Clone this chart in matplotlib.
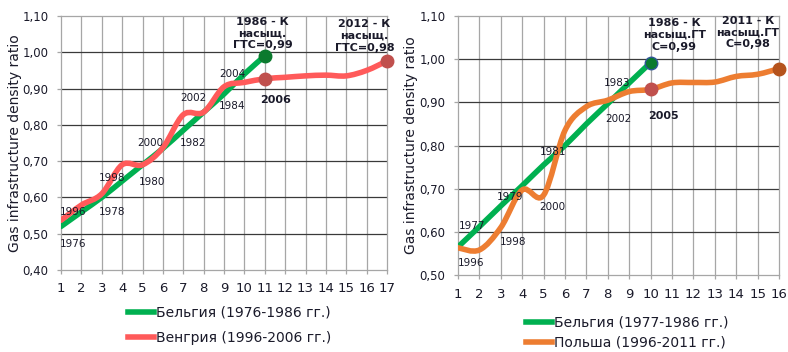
import numpy as np
import matplotlib
matplotlib.use("Agg")
import matplotlib.pyplot as plt
from matplotlib.path import Path
from matplotlib.patches import PathPatch
from matplotlib.lines import Line2D

plt.rcParams['font.family'] = ['DejaVu Sans']

# ---------------- data ----------------
# Left chart: Belgium 1976-1986, Hungary 1996-2012
left_x_belgium = [1, 2, 3, 4, 5, 6, 7, 8, 9, 10, 11]
left_belgium = [0.52, 0.56, 0.60, 0.645, 0.69, 0.735, 0.785, 0.835, 0.885, 0.94, 0.99]
left_x_hungary = [1, 2, 3, 4, 5, 6, 7, 8, 9, 10, 11, 12, 13, 14, 15, 16, 17]
left_hungary = [0.537, 0.579, 0.61, 0.69, 0.69, 0.737, 0.828, 0.835, 0.905, 0.917,
                0.927, 0.931, 0.935, 0.937, 0.935, 0.95, 0.976]
left_xticks = list(range(1, 18))
left_yticks = [0.40, 0.50, 0.60, 0.70, 0.80, 0.90, 1.00, 1.10]
left_year_labels = [("1976", 1.6, 0.472), ("1978", 3.5, 0.56), ("1996", 1.6, 0.56),
                    ("1980", 5.47, 0.643), ("1998", 3.5, 0.654), ("1982", 7.48, 0.75),
                    ("2000", 5.37, 0.75), ("1984", 9.39, 0.852), ("2002", 7.48, 0.874),
                    ("2004", 9.39, 0.94)]
left_legend = ["Бельгия (1976-1986 гг.)", "Венгрия (1996-2006 гг.)"]

# Right chart: Belgium 1977-1986, Poland 1996-2011
right_x_belgium = [1, 2, 3, 4, 5, 6, 7, 8, 9, 10]
right_belgium = [0.565, 0.612, 0.66, 0.707, 0.755, 0.80, 0.85, 0.897, 0.945, 0.992]
right_x_poland = [1, 2, 3, 4, 5, 6, 7, 8, 9, 10, 11, 12, 13, 14, 15, 16]
right_poland = [0.563, 0.558, 0.61, 0.697, 0.685, 0.835, 0.89, 0.905, 0.925, 0.93,
                0.945, 0.946, 0.947, 0.96, 0.965, 0.978]
right_xticks = list(range(1, 17))
right_yticks = [0.50, 0.60, 0.70, 0.80, 0.90, 1.00, 1.10]
right_year_labels = [("1996", 1.6, 0.528), ("1998", 3.57, 0.577), ("1977", 1.65, 0.614),
                     ("2000", 5.39, 0.658), ("1979", 3.43, 0.681), ("1981", 5.44, 0.785),
                     ("2002", 8.48, 0.862), ("1983", 8.43, 0.945)]
right_legend = ["Бельгия (1977-1986 гг.)", "Польша (1996-2011 гг.)"]

# ---------------- style ----------------
GREEN = "#00b050"
RED = "#ff5a5a"
ORANGE = "#ed7d31"
TXT = "#1a1a2a"
VGRID = "#a6a6a6"
HGRID = "#3a3a3a"


def smooth_path(xs, ys):
    """Excel-like smoothed line (Catmull-Rom Bezier) through the data points."""
    pts = np.column_stack([xs, ys]).astype(float)
    n = len(pts)
    verts = [pts[0]]
    codes = [Path.MOVETO]
    for i in range(n - 1):
        p0 = pts[i - 1] if i > 0 else pts[i]
        p1 = pts[i]
        p2 = pts[i + 1]
        p3 = pts[i + 2] if i + 2 < n else pts[i + 1]
        c1 = p1 + (p2 - p0) / 6.0
        c2 = p2 - (p3 - p1) / 6.0
        verts += [c1, c2, p2]
        codes += [Path.CURVE4] * 3
    return Path(verts, codes)


def style_axes(ax, xticks, yticks):
    ax.set_xlim(xticks[0], xticks[-1])
    ax.set_ylim(yticks[0], yticks[-1])
    ax.set_xticks(xticks)
    ax.set_yticks(yticks)
    ax.set_xticklabels([str(t) for t in xticks])
    ax.set_yticklabels([f"{t:.2f}".replace(".", ",") for t in yticks])
    for x in xticks[1:-1]:
        ax.axvline(x, color=VGRID, lw=0.9, zorder=0)
    for y in yticks[1:-1]:
        ax.axhline(y, color=HGRID, lw=0.9, zorder=0)
    for s in ax.spines.values():
        s.set_color(VGRID)
        s.set_linewidth(0.9)
    ax.tick_params(axis="both", direction="out", length=3, width=0.9, color=VGRID,
                   labelcolor=TXT)
    ax.tick_params(axis="x", labelsize=9.5, pad=6)
    ax.tick_params(axis="y", labelsize=8.5, pad=6)
    ax.set_ylabel("Gas infrastructure density ratio", fontsize=10, color=TXT)


fig = plt.figure(figsize=(7.88, 3.52), dpi=100)
W, H = 788, 352

# ---------------- left chart ----------------
ax1 = fig.add_axes([61 / W, 1 - 270 / H, (387 - 61) / W, (270 - 16) / H])
style_axes(ax1, left_xticks, left_yticks)
ax1.yaxis.set_label_coords(-0.12, 0.5)
ax1.add_patch(PathPatch(smooth_path(left_x_belgium, left_belgium), fill=False,
                        edgecolor=GREEN, lw=4, capstyle="round", zorder=3))
ax1.add_patch(PathPatch(smooth_path(left_x_hungary, left_hungary), fill=False,
                        edgecolor=RED, lw=4, capstyle="round", zorder=4))
ax1.plot([left_x_belgium[-1]], [left_belgium[-1]], "o", ms=9, color="#0b7a2e", zorder=5, clip_on=False)
ax1.plot([left_x_hungary[10]], [left_hungary[10]], "o", ms=9, color="#c0504d", zorder=5, clip_on=False)
ax1.plot([left_x_hungary[-1]], [left_hungary[-1]], "o", ms=9, color="#c0504d", zorder=5, clip_on=False)
for t, x, y in left_year_labels:
    ax1.text(x, y, t, fontsize=7.5, color=TXT, ha="center", va="center", zorder=6)
ax1.text(11.55, 0.869, "2006", fontsize=8, fontweight="bold", color=TXT,
         ha="center", va="center", zorder=6)
ax1.text(10.9, 1.052, "1986 - К\nнасыщ.\nГТС=0,99", fontsize=8, fontweight="bold",
         color=TXT, ha="center", va="center", linespacing=1.2, zorder=6, clip_on=False)
ax1.text(15.9, 1.045, "2012 - К\nнасыщ.\nГТС=0,98", fontsize=8, fontweight="bold",
         color=TXT, ha="center", va="center", linespacing=1.2, zorder=6, clip_on=False)
h1 = [Line2D([], [], color=GREEN, lw=4), Line2D([], [], color=RED, lw=4)]
ax1.legend(h1, left_legend, loc="upper left", bbox_to_anchor=(128 / W, 1 - 306 / H),
           bbox_transform=fig.transFigure, frameon=False, fontsize=10,
           handlelength=1.9, handletextpad=0.15, borderpad=0, borderaxespad=0,
           labelspacing=0.8, labelcolor=TXT)

# ---------------- right chart ----------------
ax2 = fig.add_axes([458 / W, 1 - 275 / H, (779 - 458) / W, (275 - 16) / H])
style_axes(ax2, right_xticks, right_yticks)
ax2.yaxis.set_label_coords(-0.125, 0.5)
ax2.add_patch(PathPatch(smooth_path(right_x_belgium, right_belgium), fill=False,
                        edgecolor=GREEN, lw=4, capstyle="round", zorder=3))
ax2.add_patch(PathPatch(smooth_path(right_x_poland, right_poland), fill=False,
                        edgecolor=ORANGE, lw=4, capstyle="round", zorder=4))
ax2.plot([right_x_belgium[-1]], [right_belgium[-1]], "o", ms=9, color="#0b7a2e",
         mec="#2f5597", mew=1, zorder=5, clip_on=False)
ax2.plot([right_x_poland[9]], [right_poland[9]], "o", ms=9, color="#c0504d", zorder=5, clip_on=False)
ax2.plot([right_x_poland[-1]], [right_poland[-1]], "o", ms=9, color="#b5531c", zorder=5, clip_on=False)
for t, x, y in right_year_labels:
    ax2.text(x, y, t, fontsize=7.5, color=TXT, ha="center", va="center", zorder=6)
ax2.text(10.58, 0.869, "2005", fontsize=8, fontweight="bold", color=TXT,
         ha="center", va="center", zorder=6)
ax2.text(11.1, 1.056, "1986 - К\nнасыщ.ГТ\nС=0,99", fontsize=8, fontweight="bold",
         color=TXT, ha="center", va="center", linespacing=1.2, zorder=6, clip_on=False)
ax2.text(14.55, 1.061, "2011 - К\nнасыщ.ГТ\nС=0,98", fontsize=8, fontweight="bold",
         color=TXT, ha="center", va="center", linespacing=1.2, zorder=6, clip_on=False)
h2 = [Line2D([], [], color=GREEN, lw=4), Line2D([], [], color=ORANGE, lw=4)]
ax2.legend(h2, right_legend, loc="upper left", bbox_to_anchor=(526 / W, 1 - 316 / H),
           bbox_transform=fig.transFigure, frameon=False, fontsize=10,
           handlelength=1.9, handletextpad=0.15, borderpad=0, borderaxespad=0,
           labelspacing=0.4, labelcolor=TXT)

fig.savefig("out.png", dpi=100, facecolor="white")
